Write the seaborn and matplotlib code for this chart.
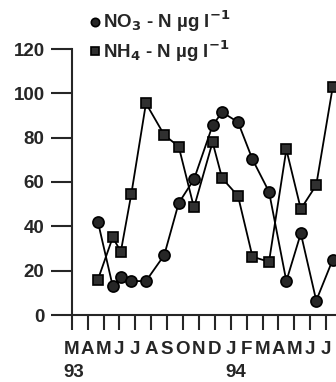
import matplotlib
matplotlib.use("Agg")
import matplotlib.pyplot as plt
import seaborn as sns
import pandas as pd
import numpy as np

# sampling dates, in months since March 1993 (0 = Mar 93)
sample_month = [1.65, 2.58, 3.09, 3.75, 4.67, 5.82, 6.73, 7.69, 8.86, 9.46,
                10.46, 11.37, 12.41, 13.5, 14.41, 15.38, 16.42]
no3_n = [42, 13, 17, 15.3, 15.3, 27, 50.5, 61.2, 85.5, 91.5,
         87, 70.2, 55.6, 15.3, 36.8, 6.5, 25]
nh4_n = [16, 35, 28.6, 54.6, 95.5, 81.2, 76, 48.5, 78, 61.7,
         53.7, 26.3, 24, 74.7, 47.8, 58.6, 103]
month_labels = ["M", "A", "M", "J", "J", "A", "S", "O", "N", "D",
                "J", "F", "M", "A", "M", "J", "J"]
year_labels = ["93", "94"]
year_tick_index = [0, 10]
y_ticks = [0, 20, 40, 60, 80, 100, 120]

sns.set_style("ticks")
plt.rcParams["font.family"] = ["Liberation Sans", "DejaVu Sans"]
plt.rcParams["font.weight"] = "bold"
plt.rcParams["mathtext.default"] = "bf"

W, H = 336, 382
fig = plt.figure(figsize=(W / 100, H / 100), dpi=100)
px_per_month = 15.9
n_months = 18
ax = fig.add_axes([71.7 / W, 67 / H, n_months * px_per_month / W, 266 / H])

df = pd.DataFrame({"month": sample_month, "no3": no3_n, "nh4": nh4_n})
sns.lineplot(data=df, x="month", y="no3", ax=ax, color="black", lw=1.3,
             marker="o", markersize=8, markerfacecolor="#262626",
             markeredgecolor="black", markeredgewidth=1.2, sort=False,
             label=r"NO$_3$ - N µg l$^{-1}$", clip_on=False)
sns.lineplot(data=df, x="month", y="nh4", ax=ax, color="black", lw=1.3,
             marker="s", markersize=7.5, markerfacecolor="#303030",
             markeredgecolor="black", markeredgewidth=1.2, sort=False,
             label=r"NH$_4$ - N µg l$^{-1}$", clip_on=False)

ax.set_xlim(0, n_months)
ax.set_ylim(0, 120)
ax.set_xlabel("")
ax.set_ylabel("")
for s in ["top", "right"]:
    ax.spines[s].set_visible(False)
ax.spines["left"].set_linewidth(1.5)
ax.spines["bottom"].set_linewidth(1.5)

ax.set_yticks(y_ticks)
ax.set_yticklabels([str(v) for v in y_ticks], fontweight="bold")
ax.set_xticks(range(len(month_labels)))
ax.set_xticklabels(month_labels, fontweight="bold")
ax.tick_params(axis="y", length=15, width=1.5, pad=4.5, labelsize=13.5)
ax.tick_params(axis="x", length=11, width=1.5, pad=8, labelsize=13.5)

for idx, lab in zip(year_tick_index, year_labels):
    ax.annotate(lab, xy=(idx, 0), xycoords="data", xytext=(-8.5 if idx == 0 else -5.5, -49),
                textcoords="offset pixels", ha="left", va="top", fontsize=13.5,
                fontweight="bold", annotation_clip=False)

leg = ax.legend(loc="upper left", bbox_to_anchor=(90.5 / W, 1 - 9 / H),
                bbox_transform=fig.transFigure, frameon=False,
                prop={"size": 13.5, "weight": "bold"},
                handlelength=0.5, handletextpad=0.15, labelspacing=0.2,
                borderaxespad=0, borderpad=0)
for h in leg.legend_handles:
    h.set_linestyle("none")
    h.set_markersize(6)

fig.savefig("out.png", dpi=100)
